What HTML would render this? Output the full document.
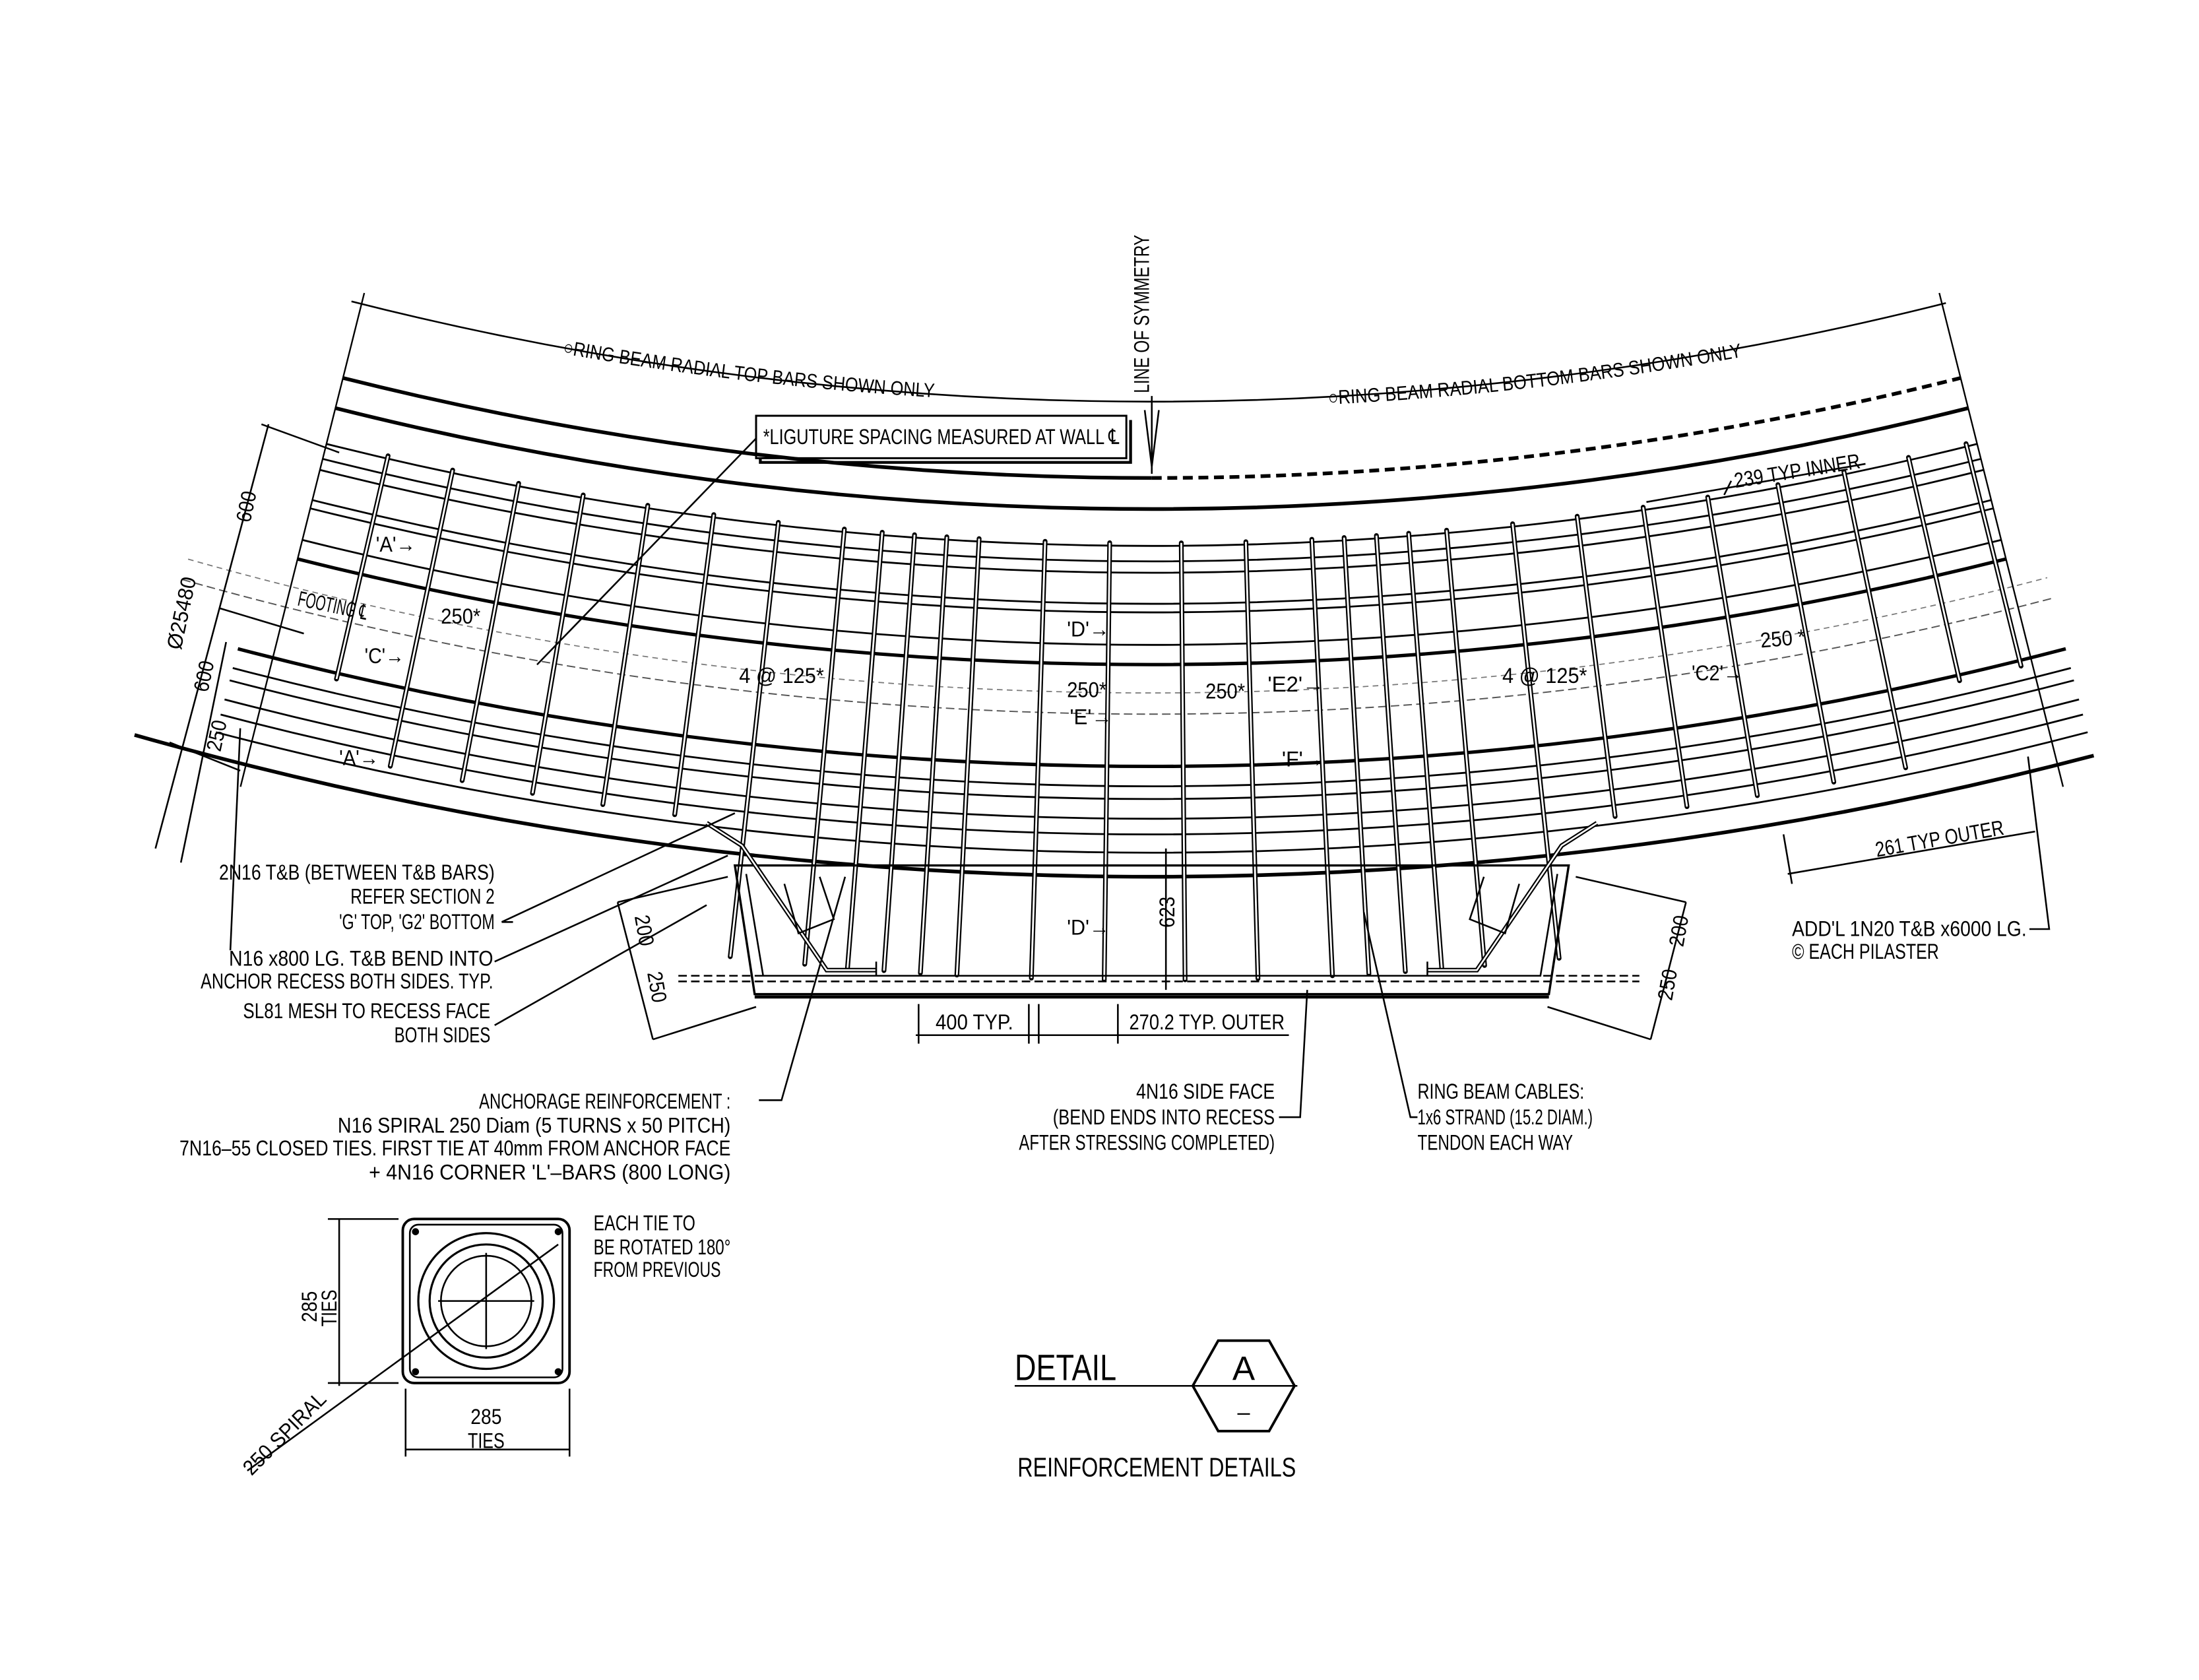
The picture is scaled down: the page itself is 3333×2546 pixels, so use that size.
<!DOCTYPE html>
<html><head><meta charset="utf-8"><style>
html,body{margin:0;padding:0;background:#fff;}
svg{display:block;}
text{font-family:"Liberation Sans Narrow","Liberation Sans",sans-serif;fill:#000;font-size:15px;}
</style></head><body>
<svg id="s" xmlns="http://www.w3.org/2000/svg" width="3333" height="2546" viewBox="0 0 1556 1188" preserveAspectRatio="none">
<rect width="1556" height="1188" fill="#fff"/>
<defs>
<path id="tp1" d="M 398 250 A 2311 2311 0 0 0 700 283"/>
<path id="tp2" d="M 940 286 A 2311 2311 0 0 0 1240 251"/>
</defs>
<g id="g" fill="none" stroke="#000"></g>
<g fill="none" stroke="#000" stroke-width="1.2">
<line x1="815" y1="280" x2="815" y2="335"/>
<polyline points="810,290 815,330 820,290"/>
<rect x="535" y="294" width="262" height="30" stroke-width="1.4"/>
<polyline points="538,324 538,327 800,327 800,297" stroke-width="2"/>
<line x1="535" y1="310" x2="380" y2="470"/>
<polygon points="520,612 534,703 1096,703 1110,612" stroke-width="1.6"/>
<line x1="534" y1="705" x2="1096" y2="705" stroke-width="2.2"/>
<polyline points="528,618 540,690 1090,690 1102,618"/>
<line x1="480" y1="690" x2="1160" y2="690" stroke-dasharray="6,3"/>
<line x1="480" y1="694" x2="1160" y2="694" stroke-dasharray="6,3"/>
<polyline points="500,582 525,598 585,686 620,686" stroke-width="3.2"/>
<polyline points="500,582 525,598 585,686 620,686" stroke="#fff" stroke-width="1.2"/>
<polyline points="1130,582 1105,598 1045,686 1010,686" stroke-width="3.2"/>
<polyline points="1130,582 1105,598 1045,686 1010,686" stroke="#fff" stroke-width="1.2"/>
<line x1="620" y1="680" x2="620" y2="690"/><line x1="1010" y1="680" x2="1010" y2="690"/>
<polyline points="555,625 565,660 590,650 580,620" /><polyline points="1075,625 1065,660 1040,650 1050,620"/>
<line x1="190" y1="300" x2="110" y2="600"/>
<line x1="160" y1="454" x2="128" y2="610"/>
<line x1="170" y1="515" x2="163" y2="672"/>
<line x1="185" y1="300" x2="240" y2="320"/><line x1="155" y1="430" x2="215" y2="448"/>
<line x1="120" y1="525" x2="170" y2="545"/>
<line x1="1165" y1="355" x2="1320" y2="328"/><line x1="1220" y1="350" x2="1225" y2="340"/>
<line x1="1265" y1="618" x2="1440" y2="588"/>
<line x1="1262" y1="590" x2="1268" y2="625"/>
<line x1="648" y1="732" x2="912" y2="732"/>
<line x1="650" y1="710" x2="650" y2="738"/><line x1="728" y1="710" x2="728" y2="738"/><line x1="735" y1="710" x2="735" y2="738"/><line x1="791" y1="710" x2="791" y2="738"/>
<line x1="825" y1="600" x2="825" y2="700"/>
<line x1="437" y1="638" x2="462" y2="735"/><line x1="437" y1="638" x2="515" y2="620"/><line x1="462" y1="735" x2="535" y2="712"/>
<line x1="1193" y1="638" x2="1168" y2="735"/><line x1="1193" y1="638" x2="1115" y2="620"/><line x1="1168" y1="735" x2="1095" y2="712"/>
<line x1="355" y1="652" x2="520" y2="575"/><line x1="355" y1="652" x2="363" y2="652"/>
<line x1="350" y1="680" x2="515" y2="605"/>
<line x1="350" y1="725" x2="500" y2="640"/>
<polyline points="537,778 553,778 598,620"/>
<polyline points="905,790 920,790 925,700"/>
<polyline points="1003,790 998,790 965,645"/>
<polyline points="1436,657 1450,657 1435,535"/>
<rect x="285" y="862" width="118" height="116" rx="8" stroke-width="1.8"/>
<rect x="290" y="866" width="108" height="108" rx="6"/>
<circle cx="344" cy="920" r="48" stroke-width="1.5"/>
<circle cx="344" cy="920" r="40" stroke-width="1.5"/>
<circle cx="344" cy="920" r="32"/>
<line x1="310" y1="920" x2="378" y2="920"/><line x1="344" y1="886" x2="344" y2="954"/>
<line x1="175" y1="1040" x2="395" y2="880"/>
<line x1="240" y1="862" x2="240" y2="980"/><line x1="232" y1="862" x2="282" y2="862"/><line x1="232" y1="978" x2="282" y2="978"/>
<line x1="287" y1="1025" x2="403" y2="1025"/><line x1="287" y1="982" x2="287" y2="1030"/><line x1="403" y1="982" x2="403" y2="1030"/>
<line x1="718" y1="980" x2="918" y2="980"/>
<polygon points="844,980 862,948 898,948 916,980 898,1012 862,1012" stroke-width="1.8"/>
</g>
<g fill="#000"><circle cx="294" cy="871" r="2.5"/><circle cx="395" cy="871" r="2.5"/><circle cx="294" cy="970" r="2.5"/><circle cx="395" cy="970" r="2.5"/></g>
<text style="font-size:14px"><textPath href="#tp1" textLength="265" lengthAdjust="spacingAndGlyphs">○RING BEAM RADIAL TOP BARS SHOWN ONLY</textPath></text>
<text style="font-size:14px"><textPath href="#tp2" textLength="295" lengthAdjust="spacingAndGlyphs">○RING BEAM RADIAL BOTTOM BARS SHOWN ONLY</textPath></text>
<text transform="translate(813,278) rotate(-90)" textLength="112" lengthAdjust="spacingAndGlyphs">LINE OF SYMMETRY</text>
<text x="540" y="314" textLength="252" lengthAdjust="spacingAndGlyphs">*LIGUTURE SPACING MEASURED AT WALL ℄</text>
<text transform="translate(1228,345) rotate(-9)" textLength="90" lengthAdjust="spacingAndGlyphs">239 TYP INNER</text>
<text transform="translate(1328,606) rotate(-10)" textLength="92" lengthAdjust="spacingAndGlyphs">261 TYP OUTER</text>
<text transform="translate(177,370) rotate(-78)" textLength="22" lengthAdjust="spacingAndGlyphs">600</text>
<text transform="translate(128,460) rotate(-78)" textLength="52" lengthAdjust="spacingAndGlyphs">Ø25480</text>
<text transform="translate(147,490) rotate(-78)" textLength="22" lengthAdjust="spacingAndGlyphs">600</text>
<text transform="translate(156,532) rotate(-78)" textLength="22" lengthAdjust="spacingAndGlyphs">250</text>
<text transform="translate(210,428) rotate(12)" textLength="50" lengthAdjust="spacingAndGlyphs">FOOTING ℄</text>
<text x="266" y="390" textLength="28" lengthAdjust="spacingAndGlyphs">'A'→</text>
<text x="240" y="541" textLength="28" lengthAdjust="spacingAndGlyphs">'A'→</text>
<text x="258" y="469" textLength="28" lengthAdjust="spacingAndGlyphs">'C'→</text>
<text x="312" y="441" textLength="28" lengthAdjust="spacingAndGlyphs">250*</text>
<text x="523" y="483" textLength="60" lengthAdjust="spacingAndGlyphs">4 @ 125*</text>
<text x="755" y="450" textLength="30" lengthAdjust="spacingAndGlyphs">'D'→</text>
<text x="755" y="493" textLength="28" lengthAdjust="spacingAndGlyphs">250*</text>
<text x="757" y="512" textLength="30" lengthAdjust="spacingAndGlyphs">'E'→</text>
<text x="853" y="494" textLength="28" lengthAdjust="spacingAndGlyphs">250*</text>
<text x="897" y="489" textLength="40" lengthAdjust="spacingAndGlyphs">'E2'→</text>
<text x="907" y="542" textLength="30" lengthAdjust="spacingAndGlyphs">'F'→</text>
<text x="1063" y="483" textLength="60" lengthAdjust="spacingAndGlyphs">4 @ 125*</text>
<text x="1197" y="481" textLength="36" lengthAdjust="spacingAndGlyphs">'C2'→</text>
<text transform="translate(1246,458) rotate(-5)" textLength="32" lengthAdjust="spacingAndGlyphs">250 *</text>
<text x="755" y="661" textLength="30" lengthAdjust="spacingAndGlyphs">'D'→</text>
<text transform="translate(831,656) rotate(-90)" textLength="22" lengthAdjust="spacingAndGlyphs">623</text>
<text transform="translate(449,648) rotate(80)" textLength="22" lengthAdjust="spacingAndGlyphs">200</text>
<text transform="translate(458,688) rotate(80)" textLength="22" lengthAdjust="spacingAndGlyphs">250</text>
<text transform="translate(1191,670) rotate(-80)" textLength="22" lengthAdjust="spacingAndGlyphs">200</text>
<text transform="translate(1183,708) rotate(-80)" textLength="22" lengthAdjust="spacingAndGlyphs">250</text>
<text x="662" y="728" textLength="55" lengthAdjust="spacingAndGlyphs">400 TYP.</text>
<text x="799" y="728" textLength="110" lengthAdjust="spacingAndGlyphs">270.2 TYP. OUTER</text>
<g text-anchor="end">
<text x="350" y="622" textLength="195" lengthAdjust="spacingAndGlyphs">2N16 T&amp;B (BETWEEN T&amp;B BARS)</text>
<text x="350" y="639" textLength="102" lengthAdjust="spacingAndGlyphs">REFER SECTION 2</text>
<text x="350" y="657" textLength="110" lengthAdjust="spacingAndGlyphs">'G' TOP, 'G2' BOTTOM</text>
<text x="349" y="683" textLength="187" lengthAdjust="spacingAndGlyphs">N16 x800 LG. T&amp;B BEND INTO</text>
<text x="349" y="699" textLength="207" lengthAdjust="spacingAndGlyphs">ANCHOR RECESS BOTH SIDES. TYP.</text>
<text x="347" y="720" textLength="175" lengthAdjust="spacingAndGlyphs">SL81 MESH TO RECESS FACE</text>
<text x="347" y="737" textLength="68" lengthAdjust="spacingAndGlyphs">BOTH SIDES</text>
<text x="517" y="784" textLength="178" lengthAdjust="spacingAndGlyphs">ANCHORAGE REINFORCEMENT :</text>
<text x="517" y="801" textLength="278" lengthAdjust="spacingAndGlyphs">N16 SPIRAL 250 Diam (5 TURNS x 50 PITCH)</text>
<text x="517" y="817" textLength="390" lengthAdjust="spacingAndGlyphs">7N16–55 CLOSED TIES. FIRST TIE AT 40mm FROM ANCHOR FACE</text>
<text x="517" y="834" textLength="256" lengthAdjust="spacingAndGlyphs">+ 4N16 CORNER 'L'–BARS (800 LONG)</text>
<text x="902" y="777" textLength="98" lengthAdjust="spacingAndGlyphs">4N16 SIDE FACE</text>
<text x="902" y="795" textLength="157" lengthAdjust="spacingAndGlyphs">(BEND ENDS INTO RECESS</text>
<text x="902" y="813" textLength="181" lengthAdjust="spacingAndGlyphs">AFTER STRESSING COMPLETED)</text>
</g>
<text x="1003" y="777" textLength="118" lengthAdjust="spacingAndGlyphs">RING BEAM CABLES:</text>
<text x="1003" y="795" textLength="124" lengthAdjust="spacingAndGlyphs">1x6 STRAND (15.2 DIAM.)</text>
<text x="1003" y="813" textLength="110" lengthAdjust="spacingAndGlyphs">TENDON EACH WAY</text>
<text x="1268" y="662" textLength="166" lengthAdjust="spacingAndGlyphs">ADD'L 1N20 T&amp;B x6000 LG.</text>
<text x="1268" y="678" textLength="104" lengthAdjust="spacingAndGlyphs">© EACH PILASTER</text>
<text x="420" y="870" textLength="72" lengthAdjust="spacingAndGlyphs">EACH TIE TO</text>
<text x="420" y="887" textLength="97" lengthAdjust="spacingAndGlyphs">BE ROTATED 180°</text>
<text x="420" y="903" textLength="90" lengthAdjust="spacingAndGlyphs">FROM PREVIOUS</text>
<text transform="translate(224,935) rotate(-90)" textLength="22" lengthAdjust="spacingAndGlyphs">285</text>
<text transform="translate(238,938) rotate(-90)" textLength="26" lengthAdjust="spacingAndGlyphs">TIES</text>
<text x="344" y="1007" text-anchor="middle" textLength="22" lengthAdjust="spacingAndGlyphs">285</text>
<text x="344" y="1024" text-anchor="middle" textLength="26" lengthAdjust="spacingAndGlyphs">TIES</text>
<text transform="translate(178,1044) rotate(-45)" textLength="76" lengthAdjust="spacingAndGlyphs">250 SPIRAL</text>
<text x="718" y="976" style="font-size:26px" textLength="72" lengthAdjust="spacingAndGlyphs">DETAIL</text>
<text x="880" y="976" text-anchor="middle" style="font-size:24px" textLength="16" lengthAdjust="spacingAndGlyphs">A</text>
<text x="880" y="1004" text-anchor="middle" style="font-size:16px">–</text>
<text x="720" y="1044" style="font-size:19px" textLength="197" lengthAdjust="spacingAndGlyphs">REINFORCEMENT DETAILS</text>
<script>
(function(){
var g=document.getElementById('g'),NS='http://www.w3.org/2000/svg',Cx=815,Cy=-2014;
function el(t,a){var e=document.createElementNS(NS,t);for(var k in a)e.setAttribute(k,a[k]);g.appendChild(e);return e;}
function pt(R,th){return [Cx+R*Math.sin(th),Cy+R*Math.cos(th)];}
function arc(R,t1,t2,w,dash,col){var a=pt(R,t1),b=pt(R,t2);
 var o={d:'M'+a[0].toFixed(1)+' '+a[1].toFixed(1)+' A'+R+' '+R+' 0 0 0 '+b[0].toFixed(1)+' '+b[1].toFixed(1),'stroke-width':w};
 if(dash)o['stroke-dasharray']=dash; if(col)o.stroke=col; el('path',o);}
var E=-0.2458;
arc(2298,-0.249,0.247,1.2);
var L=[[338,2.6,0],[360,2.6,0],[386,1.3,0],[397,1.3,0],[405,1.3,0],[427,1.3,0],[433,1.3,0],[456,1.3,0],[470,2.4,0],[490,0.8,0.03,'4,3','#777'],[505,0.9,0.03,'6,3','#555'],[542,2.4,0.01],[556,1.3,0.01],[565,1.3,0.01],[579,1.3,0.01],[590,1.3,0.01],[603,1.3,0.01],[620,2.6,0.031]];
L.forEach(function(l){var R=l[0]-Cy;
 if(l[0]==338){arc(R,E,0,l[1]);arc(R,0,-E,l[1],'7,4');}
 else arc(R,E-l[2],-E+Math.min(l[2],0.01),l[1],l[3],l[4]);});
[E,-E].forEach(function(t){var a=pt(2290,t),b=pt(2650,t);el('line',{x1:a[0],y1:a[1],x2:b[0],y2:b[1],'stroke-width':1.1});});
var X=[271,317,364,410,456,503,549,596,623,646,669,692,739,785,836,882,929,952,975,998,1025,1072,1118,1165,1211,1261,1308,1354,1395];
X.forEach(function(x){var th=Math.asin((x-Cx)/2414);var rb=(x>540&&x<1090)?2707:2612;
 if(Math.abs(x-Cx)>520)rb=2560;
 var a=pt(2398,th),b=pt(rb,th);
 el('line',{x1:a[0],y1:a[1],x2:b[0],y2:b[1],'stroke-width':3.4,'stroke-linecap':'round'});
 el('line',{x1:a[0],y1:a[1],x2:b[0],y2:b[1],'stroke-width':1.3,stroke:'#fff'});});
})();
</script>
</svg>
</body></html>
